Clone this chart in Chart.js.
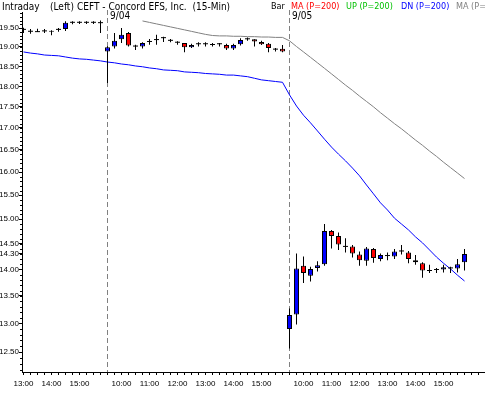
<!DOCTYPE html>
<html><head><meta charset="utf-8">
<script src="https://cdn.jsdelivr.net/npm/chart.js@4.4.1/dist/chart.umd.min.js"></script>
<style>html,body{margin:0;padding:0;background:#fff;}canvas{display:block;}</style>
</head><body>
<canvas id="c" width="485" height="395"></canvas>
<script>
const HEAD_FONT = "'DejaVu Sans Condensed','Liberation Sans',sans-serif";
const TICK_FONT = "'Liberation Sans','Arial',sans-serif";

// 15-minute bars: 9/03 13:00-15:45, 9/04 9:30-15:45, 9/05 9:30-15:45
const open = [
 19.45,19.40,19.39,19.41,19.40,19.45,19.47,19.64,19.64,19.64,19.64,19.63,
 18.88,19.01,19.20,19.37,19.01,19.01,19.13,19.18,19.23,19.16,19.11,19.10,18.99,19.07,19.07,19.05,19.07,19.05,18.96,19.07,19.20,19.20,19.13,19.08,18.93,18.95,
 12.90,13.16,14.07,13.88,14.03,14.10,14.76,14.66,14.44,14.45,14.29,14.17,14.40,14.20,14.26,14.25,14.35,14.33,14.18,14.12,13.97,13.99,14.00,14.02,14.02,14.14
];
const high = [
 19.51,19.47,19.48,19.47,19.44,19.50,19.68,19.68,19.68,19.68,19.68,19.70,
 19.02,19.37,19.50,19.39,19.06,19.12,19.21,19.32,19.27,19.21,19.15,19.10,19.08,19.12,19.12,19.10,19.10,19.08,19.08,19.23,19.25,19.20,19.16,19.10,18.97,19.05,
 13.27,14.31,14.25,14.05,14.16,14.90,14.78,14.73,14.61,14.48,14.35,14.44,14.42,14.31,14.33,14.40,14.48,14.36,14.28,14.14,14.09,14.03,14.09,14.05,14.20,14.40
];
const low = [
 19.37,19.35,19.39,19.37,19.31,19.40,19.42,19.60,19.61,19.61,19.61,19.37,
 18.08,18.96,19.10,19.01,18.92,18.96,19.06,19.06,19.13,19.12,19.06,18.86,18.97,19.01,19.01,19.01,19.01,18.92,18.92,19.04,19.16,19.01,19.05,18.86,18.88,18.86,
 12.56,12.98,13.74,13.77,13.96,14.07,14.41,14.38,14.33,14.23,14.07,14.07,14.13,14.16,14.18,14.20,14.29,14.12,14.09,13.84,13.93,13.93,13.94,13.93,13.94,13.98
];
const close = [
 19.45,19.40,19.39,19.41,19.42,19.45,19.64,19.64,19.64,19.64,19.64,19.63,
 18.99,19.16,19.32,19.04,19.01,19.10,19.13,19.18,19.23,19.16,19.11,18.99,19.05,19.07,19.07,19.05,19.07,18.96,19.05,19.18,19.20,19.14,19.07,18.97,18.93,18.88,
 13.15,14.02,13.93,14.01,14.08,14.76,14.66,14.49,14.44,14.31,14.18,14.41,14.22,14.28,14.26,14.35,14.35,14.20,14.14,13.98,13.97,13.99,14.04,14.02,14.10,14.30
];
// DN (P=200) band, blue
const dnBand = [
 18.87,18.84,18.82,18.79,18.78,18.77,18.74,18.71,18.69,18.68,18.66,18.64,
 18.61,18.59,18.56,18.54,18.51,18.49,18.46,18.44,18.41,18.40,18.39,18.36,18.35,18.34,18.32,18.31,18.30,18.28,18.28,18.26,18.24,18.20,18.16,18.14,18.12,18.10,
 17.79,17.52,17.30,17.12,16.93,16.74,16.56,16.40,16.25,16.09,15.92,15.72,15.53,15.34,15.19,15.02,14.90,14.78,14.64,14.52,14.38,14.24,14.12,14.01,13.89,13.78
];
// MA (P=200), grey
const maLine = [
 null,null,null,null,null,null,null,null,null,null,null,null,
 null,null,null,null,null,19.69,19.65,19.61,19.57,19.53,19.49,19.45,19.41,19.37,19.33,19.30,19.29,19.29,19.28,19.28,19.27,19.27,19.26,19.26,19.25,19.25,
 19.16,19.01,18.87,18.73,18.59,18.45,18.31,18.17,18.03,17.90,17.76,17.63,17.50,17.36,17.23,17.10,16.98,16.85,16.72,16.60,16.47,16.35,16.22,16.10,15.98,15.86
];
const dayBreaks = [12, 38];
const dayLabels = ['9/04', '9/05'];
const hourTicks = [0,4,8,14,18,22,26,30,34,40,44,48,52,56,60];
const hourLabels = ['13:00','14:00','15:00','10:00','11:00','12:00','13:00','14:00','15:00','10:00','11:00','12:00','13:00','14:00','15:00'];
const yTickValues = [12.5,13,13.5,14,14.3,14.5,15,15.5,16,16.5,17,17.5,18,18.5,19,19.5];
const headerLeft = [['Intraday',2],['(Left)',50],['CEFT - Concord EFS, Inc.  (15-Min)',77]];
const headerRight = [['Bar',271,'#000000'],['MA (P=200)',291,'#ff0000'],['UP (P=200)',346,'#00c000'],['DN (P=200)',401,'#0000ff'],['MA (P=200)',456,'#808080']];

const idx = open.map((_, i) => i);
const bodyColor = i => close[i] > open[i] ? '#0000ff' : (close[i] < open[i] ? '#ff0000' : '#000000');

const deco = {
  id: 'deco',
  beforeDatasetsDraw(chart) {
    const {ctx, chartArea, scales} = chart;
    ctx.save();
    ctx.strokeStyle = '#808080';
    ctx.lineWidth = 1;
    ctx.setLineDash([5, 3]);
    dayBreaks.forEach(i => {
      const px = Math.floor(scales.x.getPixelForValue(i)) + 0.5;
      ctx.beginPath(); ctx.moveTo(px, chartArea.top - 2); ctx.lineTo(px, chartArea.bottom); ctx.stroke();
    });
    ctx.restore();
  },
  afterDraw(chart) {
    const {ctx, scales, chartArea} = chart;
    ctx.save();
    ctx.textBaseline = 'middle';
    ctx.textAlign = 'left';
    ctx.font = '10px ' + HEAD_FONT;
    ctx.fillStyle = '#000';
    headerLeft.forEach(([t, x]) => ctx.fillText(t, x, 7));
    ctx.font = '9px ' + HEAD_FONT;
    headerRight.forEach(([t, x, c]) => { ctx.fillStyle = c; ctx.fillText(t, x, 7); });
    ctx.font = '10px ' + HEAD_FONT;
    ctx.fillStyle = '#000';
    dayBreaks.forEach((i, k) => ctx.fillText(dayLabels[k], Math.floor(scales.x.getPixelForValue(i)) + 3, 16));
    ctx.strokeStyle = '#000';
    ctx.lineWidth = 1;
    for (let v = 122; v <= 199; v++) {
      const py = Math.round(scales.y.getPixelForValue(v / 10)) + 0.5;
      ctx.beginPath(); ctx.moveTo(chartArea.left - 2, py); ctx.lineTo(chartArea.left, py); ctx.stroke();
    }
    ctx.restore();
  }
};

new Chart(document.getElementById('c'), {
  data: {
    datasets: [
      { type: 'bar', label: 'body', order: 0, grouped: false,
        data: idx.map(i => ({x: i, y: [open[i], close[i]]})),
        barThickness: 5, minBarLength: 1, inflateAmount: 0, borderSkipped: false,
        backgroundColor: c => bodyColor(c.dataIndex),
        borderColor: '#000000',
        borderWidth: c => (close[c.dataIndex] === open[c.dataIndex] ? 0 : 1) },
      { type: 'bar', label: 'wick', order: 1, grouped: false,
        data: idx.map(i => ({x: i, y: [low[i], high[i]]})),
        barThickness: 1, inflateAmount: 0, borderWidth: 0, backgroundColor: '#000000' },
      { type: 'line', label: 'DN', order: 2,
        data: idx.map(i => ({x: i, y: dnBand[i]})),
        borderColor: '#0000ff', borderWidth: 1, pointRadius: 0, tension: 0, fill: false },
      { type: 'line', label: 'MA', order: 3,
        data: idx.map(i => ({x: i, y: maLine[i]})),
        borderColor: '#808080', borderWidth: 1, pointRadius: 0, tension: 0, fill: false, spanGaps: false }
    ]
  },
  options: {
    responsive: false, animation: false, devicePixelRatio: 1,
    layout: { autoPadding: false, padding: { top: 12, left: 0, right: 0, bottom: 0 } },
    plugins: { legend: { display: false }, tooltip: { enabled: false }, title: { display: false } },
    scales: {
      x: {
        type: 'linear', offset: false, bounds: 'data', min: -1.5 / 7, max: -1.5 / 7 + 463 / 7,
        afterFit(s) { s.height = 23; },
        afterBuildTicks(s) { const t = []; for (let i = 0; i <= 65; i++) t.push({value: i}); s.ticks = t; },
        ticks: { autoSkip: false, maxRotation: 0, padding: 4, color: '#000',
          font: { family: TICK_FONT, size: 8 },
          callback: v => { const k = hourTicks.indexOf(v); return k >= 0 ? hourLabels[k] : ''; } },
        grid: { offset: false, drawOnChartArea: false, drawTicks: true, tickLength: 3, color: '#000' },
        border: { display: true, color: '#000', width: 1 }
      },
      y: {
        type: 'logarithmic', position: 'left', min: 12.162, max: 19.933,
        afterFit(s) { s.width = 22; },
        afterBuildTicks(s) { s.ticks = yTickValues.map(v => ({value: v})); },
        ticks: { autoSkip: false, padding: 0, color: '#000', font: { family: TICK_FONT, size: 8 },
          callback: v => Number(v).toFixed(2) },
        grid: { drawOnChartArea: false, drawTicks: true, tickLength: 3, color: '#000' },
        border: { display: true, color: '#000', width: 1 }
      }
    }
  },
  plugins: [deco]
});
</script>
</body></html>
